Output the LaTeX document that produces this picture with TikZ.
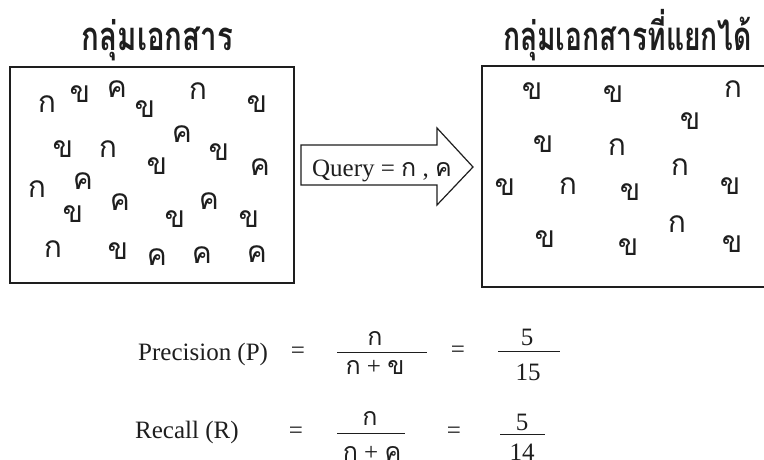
\documentclass[tikz,border=0pt]{standalone}
\usepackage{fontspec}
\setmainfont{Liberation Serif}
\newfontfamily\thaifont[Script=Thai]{Loma}
\definecolor{ink}{HTML}{1E1E1E}
\begin{document}
\begin{tikzpicture}[x=1pt,y=-1pt,
  th/.style={font=\thaifont\fontsize{30}{30}\selectfont, text=ink, inner sep=0pt, anchor=base},
  thf/.style={font=\thaifont\fontsize{25}{25}\selectfont, text=ink, inner sep=0pt, anchor=base},
  lat/.style={font=\fontsize{25}{25}\selectfont, text=ink, inner sep=0pt, anchor=base},
  title/.style={font=\thaifont\bfseries\fontsize{40}{40}\selectfont, text=ink, inner sep=0pt, anchor=base},
  box/.style={draw=ink, line width=1.6pt},
  bar/.style={draw=ink, line width=1pt},
]
\useasboundingbox (0,0) rectangle (764,459);
\fill[white] (0,0) rectangle (764,459);

% titles
\node[title] (t1) at (157.5,50) {\resizebox{151pt}{\height}{กลุ่มเอกสาร}};
\node[title] (t2) at (627.5,50) {\resizebox{249pt}{\height}{กลุ่มเอกสารที่แยกได้}};

% boxes
\draw[box] (10,67) rectangle (294,283);
\draw[box] (482,66) rectangle (772,287);

% arrow
\draw[box, line width=1.2pt, line join=miter] (301,145) -- (437,145) -- (437,128) -- (473,167) -- (437,205) -- (437,185) -- (301,185) -- cycle;
\node[lat] (q) at (382,176) {Query = {\thaifont ก} , {\thaifont ค}};

% letters in left box
\foreach [count=\i] \x/\y/\c in {47/105/ก,198/92/ก,108/150/ก,37/190/ก,53/250/ก,
  80/95/ข,145/110/ข,257/105/ข,63/150/ข,157/167/ข,219/153/ข,73/215/ข,175/220/ข,249/220/ข,118/252/ข,
  117/90/ค,182/135/ค,260/168/ค,83/182/ค,120/203/ค,209/202/ค,157/258/ค,202/256/ค,257/255/ค}
  \node[th] (a\i) at (\x,\y+7.5) {\c};

% letters in right box
\foreach [count=\i] \x/\y/\c in {733/90/ก,617/148/ก,680/168/ก,568/187/ก,677/225/ก,
  532/92/ข,613/95/ข,690/122/ข,543/145/ข,505/188/ข,630/193/ข,730/187/ข,545/240/ข,628/248/ข,732/245/ข}
  \node[th] (b\i) at (\x,\y+7.5) {\c};

% precision
\node[lat, anchor=base west] (p) at (138,360) {Precision (P)};
\node[lat] (pe1) at (298,358) {=};
\draw[bar] (337,352) -- (427,352);
\node[thf] (pn) at (375,345) {ก};
\node[lat] (pd) at (375,374) {{\thaifont\fontsize{25}{25}\selectfont ก} + {\thaifont\fontsize{25}{25}\selectfont ข}};
\node[lat] (pe2) at (458,357) {=};
\draw[bar] (498,351) -- (560,351);
\node[lat] (p5) at (527,345) {5};
\node[lat] (p15) at (528,380) {15};

% recall
\node[lat, anchor=base west] (r) at (135,438) {Recall (R)};
\node[lat] (re1) at (296,438) {=};
\draw[bar] (337,433) -- (405,433);
\node[thf] (rn) at (370,425) {ก};
\node[lat] (rd) at (372,460) {{\thaifont\fontsize{25}{25}\selectfont ก} + {\thaifont\fontsize{25}{25}\selectfont ค}};
\node[lat] (re2) at (454,438) {=};
\draw[bar] (500,434) -- (545,434);
\node[lat] (r5) at (522,430) {5};
\node[lat] (r14) at (522,460) {14};
\end{tikzpicture}
\end{document}
